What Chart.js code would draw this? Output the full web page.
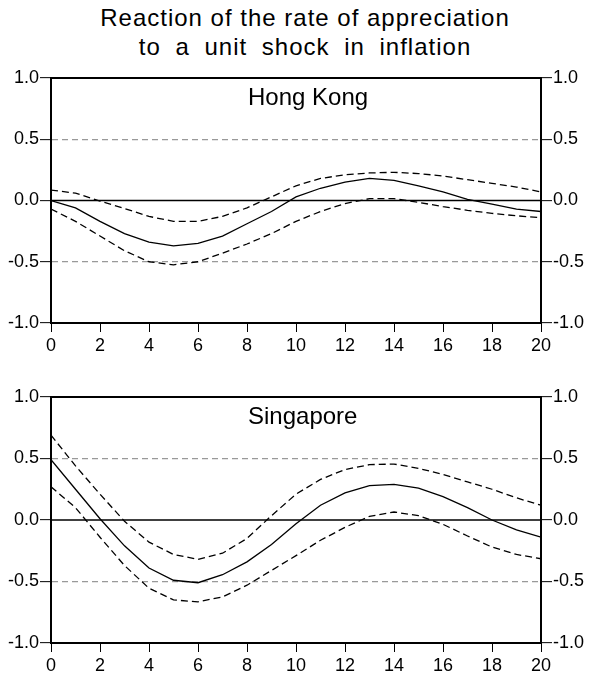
<!DOCTYPE html>
<html>
<head>
<meta charset="utf-8">
<script src="https://cdn.jsdelivr.net/npm/chart.js@4/dist/chart.umd.min.js"></script>
<style>
  body { margin: 0; background: #fff; width: 594px; height: 680px; position: relative; overflow: hidden; }
  #title { position: absolute; top: 3px; left: 8px; width: 594px; text-align: center;
           font: 24px "Liberation Sans", Arial, sans-serif; line-height: 29px; color: #000;
           letter-spacing: 1px; }
  #title span { display: block; }
  .panel { position: absolute; left: 0; width: 594px; height: 295px; }
</style>
</head>
<body>
<div id="title"><span>Reaction of the rate of appreciation</span><span style="word-spacing:7px">to a unit shock in inflation</span></div>
<div class="panel" style="top:60px"><canvas id="hk" width="594" height="295"></canvas></div>
<div class="panel" style="top:380px"><canvas id="sg" width="594" height="295"></canvas></div>
<script>
const steps = [0, 1, 2, 3, 4, 5, 6, 7, 8, 9, 10, 11, 12, 13, 14, 15, 16, 17, 18, 19, 20]
const yTicks = [-1.0, -0.5, 0.0, 0.5, 1.0]

const hkResponse = [0.0, -0.06, -0.17, -0.27, -0.34, -0.37, -0.35, -0.29, -0.19, -0.09, 0.03, 0.10, 0.15, 0.18, 0.165, 0.12, 0.07, 0.01, -0.03, -0.07, -0.09]
const hkUpper = [0.085, 0.06, -0.005, -0.065, -0.13, -0.17, -0.17, -0.13, -0.06, 0.03, 0.12, 0.18, 0.21, 0.225, 0.23, 0.22, 0.20, 0.17, 0.14, 0.11, 0.07]
const hkLower = [-0.07, -0.17, -0.29, -0.41, -0.50, -0.525, -0.50, -0.43, -0.355, -0.27, -0.17, -0.09, -0.025, 0.015, 0.015, -0.015, -0.05, -0.08, -0.105, -0.125, -0.14]

const sgResponse = [0.49, 0.25, 0.01, -0.21, -0.39, -0.49, -0.51, -0.445, -0.34, -0.20, -0.03, 0.12, 0.22, 0.28, 0.29, 0.26, 0.19, 0.10, 0.0, -0.08, -0.14]
const sgUpper = [0.69, 0.44, 0.21, -0.01, -0.18, -0.28, -0.32, -0.27, -0.15, 0.035, 0.21, 0.33, 0.41, 0.45, 0.455, 0.42, 0.37, 0.31, 0.25, 0.18, 0.12]
const sgLower = [0.27, 0.10, -0.14, -0.37, -0.555, -0.65, -0.665, -0.625, -0.53, -0.41, -0.29, -0.165, -0.06, 0.03, 0.065, 0.035, -0.035, -0.13, -0.22, -0.28, -0.315]

const FONT = "'Liberation Sans', Arial, sans-serif"

const pts = arr => arr.map((v, i) => ({x: steps[i], y: v}))

// box round the plot, solid zero line and the panel name
const panelDecor = {
    id: 'panelDecor',
    afterDatasetsDraw(chart, args, opts) {
        const {ctx, chartArea: a, scales} = chart
        ctx.save()
        const y0 = scales.y.getPixelForValue(0)
        ctx.strokeStyle = '#000'
        ctx.lineWidth = 1.6
        ctx.beginPath()
        ctx.moveTo(a.left, y0)
        ctx.lineTo(a.right, y0)
        ctx.stroke()
        ctx.lineWidth = 2
        ctx.strokeRect(a.left, a.top, a.right - a.left, a.bottom - a.top)
        ctx.fillStyle = '#000'
        ctx.font = '24px ' + FONT
        ctx.textAlign = 'left'
        ctx.textBaseline = 'alphabetic'
        ctx.fillText(opts.text, 248, a.top + 27)
        ctx.restore()
    }
}

function yAxis(position) {
    return {
        type: 'linear',
        position: position,
        min: -1, max: 1,
        afterBuildTicks: s => { s.ticks = yTicks.map(v => ({value: v})) },
        afterFit: s => { s.width = position === 'left' ? 51 : 53 },
        ticks: {
            color: '#000',
            font: {family: FONT, size: 18},
            padding: 1,
            callback: v => v.toFixed(1)
        },
        grid: {
            drawOnChartArea: position === 'left',
            color: c => Math.abs(Math.abs(c.tick.value) - 0.5) < 1e-6 ? '#999' : 'rgba(0,0,0,0)',
            lineWidth: 1.3,
            tickColor: '#000',
            tickLength: 11,
            tickWidth: 1,
            tickBorderDash: []
        },
        border: {display: true, color: '#000', width: 2, dash: position === 'left' ? [6, 4] : []}
    }
}

function makePanel(id, name, dy, resp, upper, lower) {
    const line = {borderColor: '#000', pointRadius: 0, tension: 0, fill: false}
    new Chart(document.getElementById(id), {
        type: 'line',
        data: {
            datasets: [
                {...line, label: 'Response', data: pts(resp), borderWidth: 1.3},
                {...line, label: 'Upper', data: pts(upper), borderWidth: 1.3, borderDash: [7, 4]},
                {...line, label: 'Lower', data: pts(lower), borderWidth: 1.3, borderDash: [7, 4]}
            ]
        },
        options: {
            responsive: false,
            animation: false,
            layout: {padding: {top: dy, left: 0, right: 0, bottom: 0}},
            plugins: {
                legend: {display: false},
                tooltip: {enabled: false},
                panelDecor: {text: name}
            },
            scales: {
                x: {
                    type: 'linear',
                    min: 0, max: 20,
                    ticks: {
                        stepSize: 2,
                        color: '#000',
                        font: {family: FONT, size: 18},
                        padding: 3,
                        maxRotation: 0
                    },
                    afterFit: s => { s.height = 32 },
                    grid: {drawOnChartArea: false, tickColor: '#000', tickLength: 9, tickWidth: 1},
                    border: {display: true, color: '#000', width: 2}
                },
                y: yAxis('left'),
                y2: yAxis('right')
            }
        },
        plugins: [panelDecor]
    })
}

makePanel('hk', 'Hong Kong', 18, hkResponse, hkUpper, hkLower)
makePanel('sg', 'Singapore', 17, sgResponse, sgUpper, sgLower)
</script>
</body>
</html>
